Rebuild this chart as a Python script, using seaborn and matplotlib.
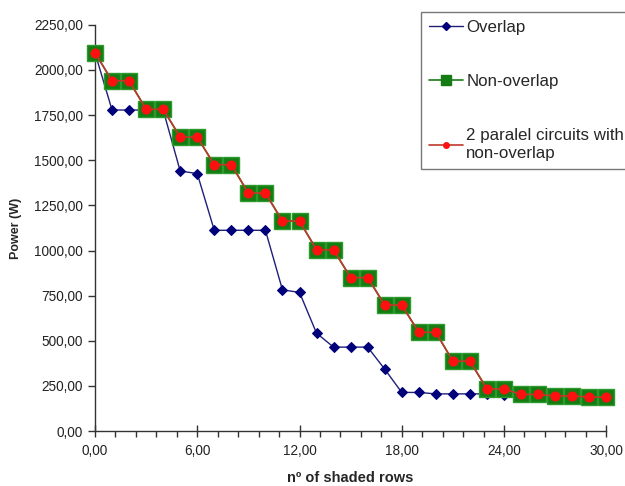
import matplotlib
matplotlib.use("Agg")
import matplotlib.pyplot as plt
import seaborn as sns
import pandas as pd
from matplotlib.ticker import FuncFormatter, MultipleLocator
from matplotlib.lines import Line2D

rows = list(range(0, 31))
overlap = [2095, 1778, 1778, 1778, 1778, 1440, 1426, 1112, 1112, 1112, 1112,
           782, 768, 542, 465, 465, 465, 343, 214, 214, 206, 206, 206, 206, 200,
           198, 196, 194, 192, 190, 188]
non_overlap = [2095, 1940, 1940, 1782, 1782, 1628, 1628, 1475, 1475, 1318, 1318,
               1163, 1163, 1004, 1004, 850, 850, 698, 698, 547, 547, 387, 387,
               234, 234, 203, 203, 195, 195, 188, 188]
parallel = list(non_overlap)

labels = ["Overlap", "Non-overlap", "2 paralel circuits with\nnon-overlap"]
yticks = [0, 250, 500, 750, 1000, 1250, 1500, 1750, 2000, 2250]

sns.set_style("white")
plt.rcParams['font.family'] = ['Liberation Sans', 'DejaVu Sans']

fig = plt.figure(figsize=(6.25, 4.86), dpi=100)
ax = fig.add_axes([0.152, 0.113, 0.818, 0.836])

df = pd.DataFrame({"x": rows, "overlap": overlap, "non": non_overlap, "par": parallel})

sns.lineplot(data=df, x="x", y="non", ax=ax, color="#1a7a1a", lw=1.2,
             marker="s", markersize=12, markerfacecolor="#137d13",
             markeredgecolor="#2e9a2e", markeredgewidth=1, clip_on=False, zorder=3)
sns.lineplot(data=df, x="x", y="par", ax=ax, color="#c0392b", lw=1.2,
             marker="o", markersize=6.5, markerfacecolor="#ff1010",
             markeredgecolor="#ff1010", clip_on=False, zorder=4)
sns.lineplot(data=df, x="x", y="overlap", ax=ax, color="#1f1f7a", lw=1.0,
             marker="D", markersize=5.5, markerfacecolor="#00007a",
             markeredgecolor="#00007a", clip_on=False, zorder=2)

ax.set_xlim(0, 30)
ax.set_ylim(0, 2250)
ax.set_yticks(yticks)
ax.xaxis.set_major_locator(MultipleLocator(6))
ax.xaxis.set_minor_locator(MultipleLocator(1.2))
fmt = FuncFormatter(lambda v, p: f"{v:.2f}".replace('.', ','))
ax.xaxis.set_major_formatter(fmt)
ax.yaxis.set_major_formatter(fmt)
ax.tick_params(axis='y', which='major', direction='out', length=5, width=1,
               color='#333333', labelsize=9.8, labelcolor='#222222', left=True)
ax.tick_params(axis='x', which='major', direction='inout', length=8, width=1,
               color='#333333', labelsize=9.8, labelcolor='#222222', bottom=True, pad=5)
ax.tick_params(axis='x', which='minor', direction='out', length=4, width=1,
               color='#333333', bottom=True)
for s in ['top', 'right']:
    ax.spines[s].set_visible(False)
for s in ['left', 'bottom']:
    ax.spines[s].set_color('#333333')
    ax.spines[s].set_linewidth(1)

ax.set_xlabel("nº of shaded rows", fontsize=10.5, fontweight='bold', labelpad=10)
ax.set_ylabel("Power (W)", fontsize=9, fontweight='bold', labelpad=9)

handles = [
    Line2D([], [], color="#1f1f7a", lw=1.0, marker="D", markersize=4,
           markerfacecolor="#00007a", markeredgecolor="#00007a"),
    Line2D([], [], color="#1a7a1a", lw=1.2, marker="s", markersize=7,
           markerfacecolor="#137d13", markeredgecolor="#137d13"),
    Line2D([], [], color="#c0392b", lw=1.2, marker="o", markersize=4,
           markerfacecolor="#ff1010", markeredgecolor="#ff1010"),
]
leg = fig.legend(handles, labels, loc='upper left', bbox_to_anchor=(0.674, 0.975),
                 frameon=True, fancybox=False, fontsize=12.2, labelspacing=2.3,
                 handlelength=2.0, handletextpad=0.2, borderpad=0.45, borderaxespad=0)
for t in leg.get_texts():
    t.set_linespacing(1.3)
leg.get_frame().set_edgecolor('#555555')
leg.get_frame().set_linewidth(1)

fig.savefig("out.png", dpi=100)
